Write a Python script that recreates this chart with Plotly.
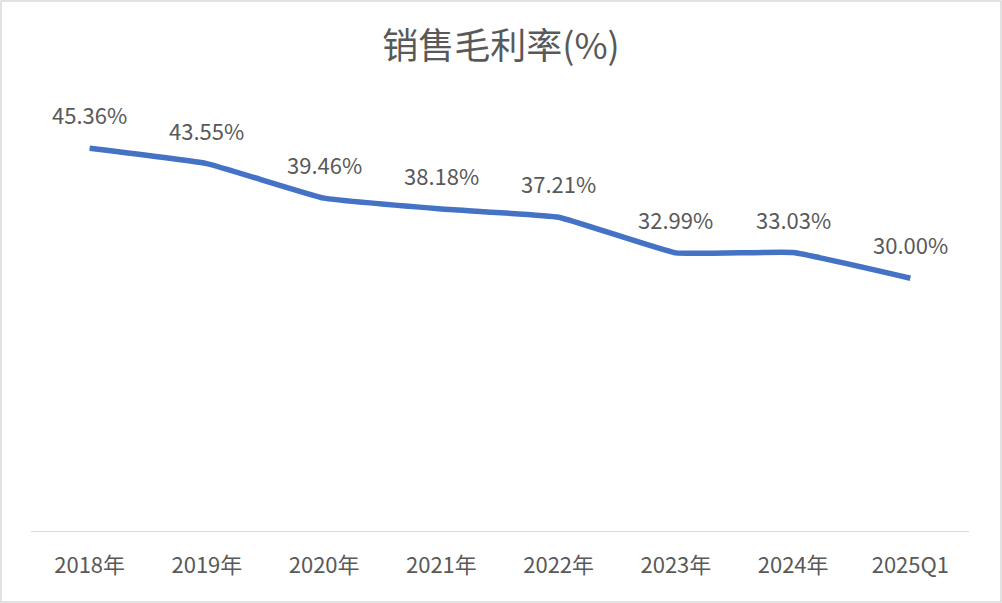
import plotly.graph_objects as go

categories = ["2018年", "2019年", "2020年", "2021年", "2022年", "2023年", "2024年", "2025Q1"]
margin_values = [45.36, 43.55, 39.46, 38.18, 37.21, 32.99, 33.03, 30.00]
label_texts = [f"{v:.2f}%" for v in margin_values]

FONT = "Noto Sans CJK SC, Noto Sans, sans-serif"
GREY = "#595959"

fig = go.Figure()
fig.add_trace(go.Scatter(
    x=categories, y=margin_values, mode="lines",
    line=dict(color="#4472C4", width=5.5, shape="spline", smoothing=0.3),
    hoverinfo="skip",
))

for c, v, t in zip(categories, margin_values, label_texts):
    fig.add_annotation(x=c, y=v, text=t, showarrow=False, yshift=34,
                       font=dict(family=FONT, size=22, color=GREY))

fig.add_shape(type="rect", xref="paper", yref="paper",
              x0=-0.032, x1=1.0341, y0=-0.1655, y1=1.2553,
              line=dict(color="#D9D9D9", width=1.5))

fig.update_layout(
    width=1002, height=603,
    margin=dict(l=31, r=33, t=109, b=71),
    paper_bgcolor="white", plot_bgcolor="white",
    showlegend=False,
    title=dict(text="销售毛利率(%)", x=0.5, xanchor="center", y=1 - 46 / 603, yanchor="middle",
               font=dict(family=FONT, size=36, color=GREY)),
    xaxis=dict(type="category", range=[-0.5, 7.5], showgrid=False, showline=False, zeroline=False,
               ticks="", ticklabelstandoff=18,
               tickfont=dict(family=FONT, size=22, color=GREY)),
    yaxis=dict(range=[0, 50], visible=False, showgrid=False, zeroline=False),
)
fig.add_hline(y=0, line=dict(color="#D9D9D9", width=2))

fig.write_html("out.html", config={"displayModeBar": False},
               post_script="document.body.style.margin='0';")
